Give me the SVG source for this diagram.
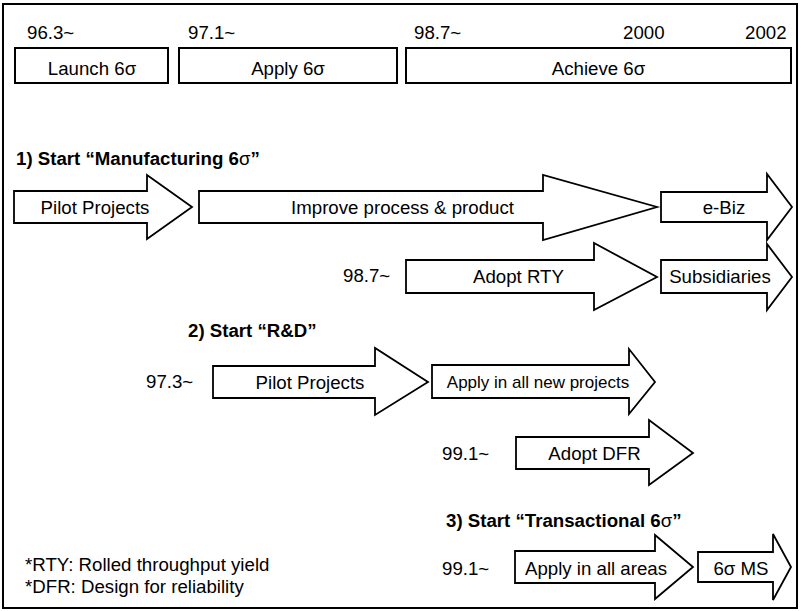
<svg xmlns="http://www.w3.org/2000/svg" width="801" height="611" viewBox="0 0 801 611">
<style>
  text { font-family: "Liberation Sans", Arial, sans-serif; font-size: 18.67px; fill: #000; }
  .c { text-anchor: middle; }
  .h { font-weight: bold; }
  .n { font-weight: normal; }
  .box { fill: #fff; stroke: #000; stroke-width: 2; }
  .arr { fill: #fff; stroke: #000; stroke-width: 1.8; stroke-linejoin: miter; }
</style>
<rect x="0" y="0" width="801" height="611" fill="#fff"/>
<rect x="3" y="4" width="794" height="604" fill="none" stroke="#000" stroke-width="2"/>

<g id="timeline">
  <text x="27" y="39">96.3~</text>
  <text x="188" y="39">97.1~</text>
  <text x="414" y="39">98.7~</text>
  <text x="623" y="39">2000</text>
  <text x="745" y="39">2002</text>
</g>
<g id="launch">
  <rect class="box" x="15" y="48" width="153" height="35"/>
  <text class="c" x="92" y="74.5">Launch 6σ</text>
</g>
<g id="apply">
  <rect class="box" x="179" y="48" width="218" height="35"/>
  <text class="c" x="288" y="74.5">Apply 6σ</text>
</g>
<g id="achieve">
  <rect class="box" x="406" y="48" width="385" height="35"/>
  <text class="c" x="598.5" y="74.5">Achieve 6σ</text>
</g>

<g id="heading1"><text class="h" x="16" y="164.5">1) Start “Manufacturing 6<tspan class="n">σ</tspan>”</text></g>
<g id="mfg-pilot">
  <polygon class="arr" points="14,191 147,191 147,175 192,207 147,239 147,223 14,223"/>
  <text class="c" x="95" y="213.5">Pilot Projects</text>
</g>
<g id="mfg-improve">
  <polygon class="arr" points="199,191 543,191 543,175 657,207 543,240 543,223 199,223"/>
  <text class="c" x="402.5" y="213.5">Improve process &amp; product</text>
</g>
<g id="mfg-ebiz">
  <polygon class="arr" points="661,192 767,192 767,174 792,207 767,240 767,222 661,222"/>
  <text class="c" x="724" y="213.5">e-Biz</text>
</g>
<g id="mfg-rty">
  <text x="343" y="282">98.7~</text>
  <polygon class="arr" points="406,260 594,260 594,243 657,277 594,310 594,293 406,293"/>
  <text class="c" x="518.5" y="283">Adopt RTY</text>
</g>
<g id="mfg-subs">
  <polygon class="arr" points="661,260 767,260 767,244 792,277 767,310 767,293 661,293"/>
  <text class="c" x="720" y="283">Subsidiaries</text>
</g>

<g id="heading2"><text class="h" x="188" y="337">2) Start “R&amp;D”</text></g>
<g id="rd-pilot">
  <text x="146" y="387.5">97.3~</text>
  <polygon class="arr" points="213,366 375,366 375,348 428,382 375,415 375,398 213,398"/>
  <text class="c" x="310" y="388.5">Pilot Projects</text>
</g>
<g id="rd-apply">
  <polygon class="arr" points="432,365 629,365 629,349 655,382 629,414 629,398 432,398"/>
  <text class="c" x="538" y="388" style="font-size:17px">Apply in all new projects</text>
</g>
<g id="rd-dfr">
  <text x="442" y="459.5">99.1~</text>
  <polygon class="arr" points="516,437 649,437 649,420 693,453 649,485 649,469 516,469"/>
  <text class="c" x="594.5" y="459.5">Adopt DFR</text>
</g>

<g id="heading3"><text class="h" x="446" y="527">3) Start “Transactional 6<tspan class="n">σ</tspan>”</text></g>
<g id="tx-apply">
  <text x="442" y="575">99.1~</text>
  <polygon class="arr" points="515,551 655,551 655,535 693,567 655,599 655,583 515,583"/>
  <text class="c" x="596" y="574.5">Apply in all areas</text>
</g>
<g id="tx-ms">
  <polygon class="arr" points="698,552 773,552 773,534 791,567 773,600 773,582 698,582"/>
  <text class="c" x="741" y="574.5">6σ MS</text>
</g>

<g id="notes">
  <text x="25" y="571">*RTY: Rolled throughput yield</text>
  <text x="25" y="593">*DFR: Design for reliability</text>
</g>
<g id="connectors"></g>
</svg>
